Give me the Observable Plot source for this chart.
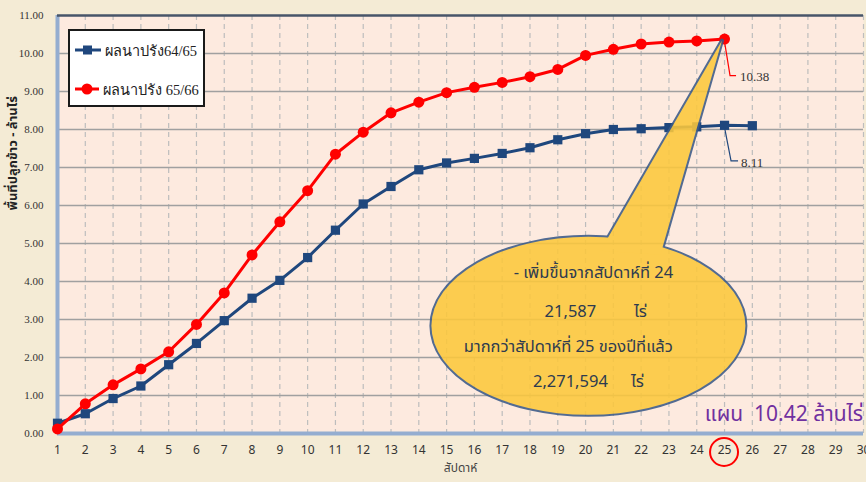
<!DOCTYPE html>
<html><head><meta charset="utf-8">
<script src="https://cdn.jsdelivr.net/npm/d3@7"></script>
<script src="https://cdn.jsdelivr.net/npm/@observablehq/plot@0.6"></script>
<style>
html,body{margin:0;padding:0;background:#f4ebd5;}
#wrap{position:relative;width:866px;height:482px;overflow:hidden;background:#f4ebd5;}
#legend{position:absolute;left:68px;top:29px;width:133px;height:74px;border:2px solid #1a1a1a;background:#fff;font-family:"Liberation Serif","DejaVu Serif",serif;font-size:14.5px;color:#222;}
.lg{position:absolute;left:4px;height:20px;display:flex;align-items:center;white-space:nowrap;}
.lg svg{margin-right:3px;flex:none}
</style></head><body><div id="wrap"></div>
<script>
// ---- data ----
const xTicks = [1,2,3,4,5,6,7,8,9,10,11,12,13,14,15,16,17,18,19,20,21,22,23,24,25,26,27,28,29,30];
const yTicks = [0,1,2,3,4,5,6,7,8,9,10,11];
const series64 = "ผลนาปรัง64/65";
const series65 = "ผลนาปรัง 65/66";
const weeks64 = [1,2,3,4,5,6,7,8,9,10,11,12,13,14,15,16,17,18,19,20,21,22,23,24,25,26];
const area64 = [0.27,0.52,0.92,1.25,1.81,2.37,2.97,3.56,4.03,4.63,5.35,6.04,6.50,6.94,7.12,7.24,7.37,7.52,7.73,7.89,8.00,8.02,8.05,8.07,8.11,8.10];
const weeks65 = [1,2,3,4,5,6,7,8,9,10,11,12,13,14,15,16,17,18,19,20,21,22,23,24,25];
const area65 = [0.12,0.78,1.28,1.70,2.15,2.87,3.70,4.70,5.57,6.39,7.35,7.93,8.44,8.72,8.97,9.11,9.24,9.39,9.58,9.95,10.11,10.25,10.30,10.33,10.38];
const lastWeek = 25;
const label64 = "8.11", label65 = "10.38";
const yTitle = "พื้นที่ปลูกข้าว - ล้านไร่";
const xTitle = "สัปดาห์";
const calloutLines = ["- เพิ่มขึ้นจากสัปดาห์ที่ 24", "21,587", "ไร่", "มากกว่าสัปดาห์ที่ 25 ของปีที่แล้ว", "2,271,594", "ไร่"];
const planText = "แผน  10.42 ล้านไร่";

const d64 = weeks64.map((w,i)=>({week:w, v:area64[i]}));
const d65 = weeks65.map((w,i)=>({week:w, v:area65[i]}));
const BLUE = "#1f477d", RED = "#ff0000";
const thai = "Tahoma, 'Noto Sans Thai', 'DejaVu Sans', 'Noto Sans', sans-serif";

const plot = Plot.plot({
  width: 866, height: 482,
  marginLeft: 57, marginRight: 3, marginTop: 15, marginBottom: 49,
  style: {background: "transparent", fontFamily: thai, overflow: "visible"},
  x: {domain: [1,30], label: null},
  y: {domain: [0,11], label: null},
  marks: [
    Plot.frame({fill: "#fdeadf", stroke: "none"}),
    Plot.ruleX(xTicks, {stroke: "#bdbdbd", strokeWidth: 1.2, strokeDasharray: "5,4"}),
    Plot.ruleY(yTicks.filter(d => d > 0 && d < 11), {stroke: "#a0a0a0", strokeWidth: 1.5}),
    Plot.ruleX([1], {stroke: "#94add0", strokeWidth: 4}),
    Plot.ruleY([0], {stroke: "#94add0", strokeWidth: 4}),
    Plot.ruleY([11], {stroke: "#475569", strokeWidth: 2.5}),
    Plot.line(d64, {x: "week", y: "v", stroke: BLUE, strokeWidth: 3}),
    Plot.dot(d64, {x: "week", y: "v", symbol: "square", fill: BLUE, r: 5.2}),
    Plot.line(d65, {x: "week", y: "v", stroke: RED, strokeWidth: 3}),
    Plot.dot(d65, {x: "week", y: "v", symbol: "circle", fill: RED, r: 5.5}),
    Plot.axisX({ticks: xTicks, tickFormat: d => d, tickSize: 0, tickPadding: 12, fontSize: 12, fill: "#333", label: null}),
    Plot.axisY({ticks: yTicks, tickFormat: d => d.toFixed(2), tickSize: 0, tickPadding: 14, fontSize: 11, fill: "#333", fontFamily: "'Liberation Serif', serif", label: null}),
    Plot.text([xTitle], {frameAnchor: "bottom", dy: 38, fontSize: 12, fill: "#444", text: d => d}),
    Plot.text([yTitle], {frameAnchor: "left", dx: -45, dy: -14, rotate: -90, fontSize: 13, fontWeight: "bold", fill: "#222", text: d => d})
  ]
});

document.getElementById("wrap").appendChild(plot);

const x = plot.scale("x"), y = plot.scale("y");
const svg = d3.select(plot);

// data labels with leaders
const p65 = [x.apply(lastWeek), y.apply(area65[area65.length-1])];
const p64 = [x.apply(lastWeek), y.apply(area64[weeks64.indexOf(lastWeek)])];
svg.append("path").attr("d", `M${p65[0]},${p65[1]}L${p65[0]+6},${p65[1]+37}H${p65[0]+12}`).attr("fill","none").attr("stroke",RED).attr("stroke-width",1.2);
svg.append("text").attr("x", p65[0]+16).attr("y", p65[1]+42).attr("text-anchor","start").text(label65).attr("font-size",13).attr("fill","#333").attr("font-family","'Liberation Serif', serif");
svg.append("path").attr("d", `M${p64[0]},${p64[1]}L${p64[0]+7},${p64[1]+36}H${p64[0]+14}`).attr("fill","none").attr("stroke",BLUE).attr("stroke-width",1.2);
svg.append("text").attr("x", p64[0]+17).attr("y", p64[1]+42).attr("text-anchor","start").text(label64).attr("font-size",13).attr("fill","#333").attr("font-family","'Liberation Serif', serif");

// callout bubble
const cx = x.apply(20.12), cy = y.apply(2.82), rx = 157, ry = 89;
const tri = `M${p65[0]-2},${p65[1]+2}L${cx+12},${cy-ry+14}L${cx+72},${cy-ry+18}Z`;
const g = svg.append("g").attr("opacity", 0.88);
g.append("ellipse").attr("cx",cx).attr("cy",cy).attr("rx",rx).attr("ry",ry).attr("fill","#3b5a88").attr("stroke","#3b5a88").attr("stroke-width",4);
g.append("path").attr("d",tri).attr("fill","#3b5a88").attr("stroke","#3b5a88").attr("stroke-width",4).attr("stroke-linejoin","round");
g.append("ellipse").attr("cx",cx).attr("cy",cy).attr("rx",rx).attr("ry",ry).attr("fill","#fcc83c");
g.append("path").attr("d",tri).attr("fill","#fcc83c");

const tc = svg.append("g").attr("font-family", thai).attr("font-size", 16.5).attr("fill", "#2e3b4f").attr("text-anchor","middle");
tc.append("text").attr("x", cx+5).attr("y", cy-48).text(calloutLines[0]);
tc.append("text").attr("x", cx-18).attr("y", cy-9).text(calloutLines[1]);
tc.append("text").attr("x", cx+52).attr("y", cy-9).text(calloutLines[2]);
tc.append("text").attr("x", cx-20).attr("y", cy+26).text(calloutLines[3]);
tc.append("text").attr("x", cx-18).attr("y", cy+61).text(calloutLines[4]);
tc.append("text").attr("x", cx+49).attr("y", cy+61).text(calloutLines[5]);

// plan text
svg.append("text").attr("x", 863).attr("y", y.apply(0)-12).attr("text-anchor","end").attr("font-family",thai).attr("font-size",21).attr("fill","#7030a0").attr("xml:space","preserve").style("white-space","pre").text(planText);

// red circle around the current week tick
svg.append("circle").attr("cx", x.apply(lastWeek)).attr("cy", y.apply(0)+19).attr("r", 14).attr("fill","none").attr("stroke",RED).attr("stroke-width",2);

// legend (HTML)
const lg = document.createElement("div");
lg.id = "legend";
lg.innerHTML = `
<div class="lg" style="top:9px"><svg width="28" height="12"><line x1="1" y1="6" x2="27" y2="6" stroke="${BLUE}" stroke-width="3"/><rect x="9" y="1.5" width="9" height="9" fill="${BLUE}"/></svg><span>${series64}</span></div>
<div class="lg" style="top:48px"><svg width="26" height="12"><line x1="1" y1="6" x2="25" y2="6" stroke="${RED}" stroke-width="3"/><circle cx="13" cy="6" r="5.5" fill="${RED}"/></svg><span>${series65}</span></div>`;
document.getElementById("wrap").appendChild(lg);
</script>
</body></html>
